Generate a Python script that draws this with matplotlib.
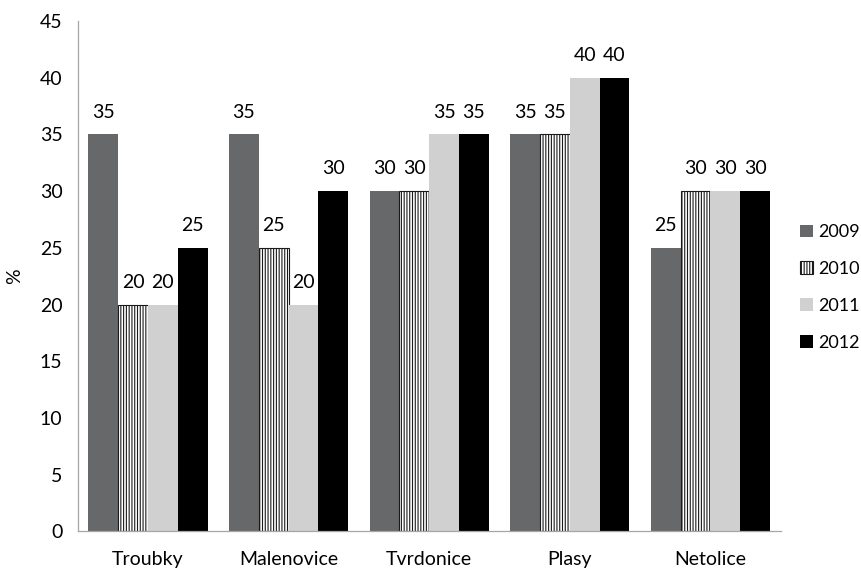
import numpy as np
import matplotlib.pyplot as plt

plt.rcParams['font.family'] = ['Lato', 'DejaVu Sans']
plt.rcParams['hatch.linewidth'] = 0.8

places = ['Troubky', 'Malenovice', 'Tvrdonice', 'Plasy', 'Netolice']
years = ['2009', '2010', '2011', '2012']
v2009 = [35, 35, 30, 35, 25]
v2010 = [20, 25, 30, 35, 30]
v2011 = [20, 20, 35, 40, 30]
v2012 = [25, 30, 35, 40, 30]
series = [v2009, v2010, v2011, v2012]

styles = [
    dict(color='#67686a'),
    dict(facecolor='#ffffff', edgecolor='#1a1a1a', hatch='||||||', linewidth=0.8),
    dict(color='#d0d0d0'),
    dict(color='#000000'),
]

fig = plt.figure(figsize=(8.61, 5.70), dpi=100)
ax = fig.add_axes([0.0902, 0.068, 0.8165, 0.895])

x = np.arange(len(places))
w = 0.212
for i, (vals, st, yr) in enumerate(zip(series, styles, years)):
    pos = x + (i - 1.5) * w
    bars = ax.bar(pos, vals, w, label=yr, **st)
    for b, v in zip(bars, vals):
        ax.annotate(str(v), (b.get_x() + b.get_width() / 2, v),
                    xytext=(0, 16), textcoords='offset points',
                    ha='center', va='center', fontsize=14)

ax.set_xlim(-0.5, len(places) - 0.5)
ax.set_ylim(0, 45)
ax.set_yticks(range(0, 46, 5))
ax.set_xticks(x)
ax.set_xticklabels(places)
ax.tick_params(length=0, labelsize=14)
ax.tick_params(axis='x', pad=14)
ax.tick_params(axis='y', pad=11)
for s in ['top', 'right']:
    ax.spines[s].set_visible(False)
for s in ['left', 'bottom']:
    ax.spines[s].set_color('#a6a6a6')
    ax.spines[s].set_linewidth(0.9)
ax.set_ylabel('%', fontsize=14, labelpad=12)

ax.legend(loc='center left', bbox_to_anchor=(800 / 861, 1 - 287.5 / 570),
          bbox_transform=fig.transFigure, frameon=False, borderpad=0,
          borderaxespad=0, fontsize=13, handlelength=0.72, handleheight=0.72,
          labelspacing=1.15, handletextpad=0.3)

fig.savefig('out.png', dpi=100)
